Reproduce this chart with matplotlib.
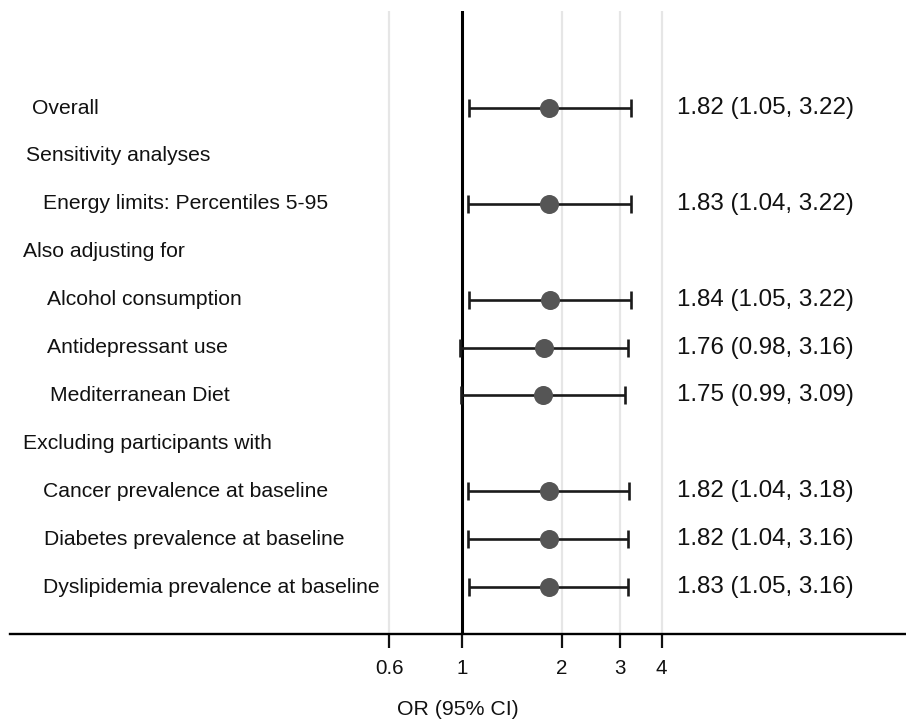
import matplotlib
matplotlib.use("Agg")
import matplotlib.pyplot as plt
from matplotlib.ticker import FixedLocator, FixedFormatter, NullLocator
from matplotlib.transforms import blended_transform_factory

plt.rcParams["font.family"] = ["Liberation Sans", "DejaVu Sans"]

# Filas del forest plot (None = fila de encabezado sin estimación)
labels = [
    "Overall",
    "Sensitivity analyses",
    "Energy limits: Percentiles 5-95",
    "Also adjusting for",
    "Alcohol consumption",
    "Antidepressant use",
    "Mediterranean Diet",
    "Excluding participants with",
    "Cancer prevalence at baseline",
    "Diabetes prevalence at baseline",
    "Dyslipidemia prevalence at baseline",
]
or_est = [1.82, None, 1.83, None, 1.84, 1.76, 1.75, None, 1.82, 1.82, 1.83]
ci_low = [1.05, None, 1.04, None, 1.05, 0.98, 0.99, None, 1.04, 1.04, 1.05]
ci_high = [3.22, None, 3.22, None, 3.22, 3.16, 3.09, None, 3.18, 3.16, 3.16]

tick_vals = [0.6, 1, 2, 3, 4]
tick_labels = ["0.6", "1", "2", "3", "4"]

# sangría de cada etiqueta (píxeles desde el borde izquierdo de la figura)
label_px = [32, 26, 43, 23, 47, 47, 50, 23, 43, 44, 43]

W, H = 906, 722
fig = plt.figure(figsize=(W / 100, H / 100), dpi=100)
ax = fig.add_axes([10 / W, 1 - 634 / H, 896 / W, (634 - 11) / H])

ax.set_xscale("log", base=2)
ax.set_xlim(0.0429, 21.9)
ax.set_ylim(10.98, -2.025)

# líneas de referencia
for v in tick_vals:
    if v == 1:
        continue
    ax.axvline(v, color="#e6e6e6", linewidth=1.6, zorder=0)
ax.axvline(1, color="black", linewidth=2.2, zorder=1)

trans = blended_transform_factory(fig.transFigure, ax.transData)
trans_r = blended_transform_factory(ax.transAxes, ax.transData)

for i, lab in enumerate(labels):
    ax.text(label_px[i] / W, i, lab, transform=trans, ha="left", va="center",
            fontsize=15.2, color="#111111")
    if or_est[i] is None:
        continue
    est, lo, hi = or_est[i], ci_low[i], ci_high[i]
    ax.errorbar(est, i, xerr=[[est - lo], [hi - est]], fmt="none",
                ecolor="#1a1a1a", elinewidth=1.9, capsize=6.5, capthick=1.9,
                zorder=2)
    ax.plot(est, i, "o", color="#555555", markersize=13.7,
            markeredgewidth=0, zorder=3)
    ax.text((677 - 10) / 896, i, f"{est:.2f} ({lo:.2f}, {hi:.2f})",
            transform=trans_r, ha="left", va="center", fontsize=17.4,
            color="#111111")

for s in ["top", "right", "left"]:
    ax.spines[s].set_visible(False)
ax.spines["bottom"].set_linewidth(1.7)
ax.set_yticks([])

ax.xaxis.set_major_locator(FixedLocator(tick_vals))
ax.xaxis.set_major_formatter(FixedFormatter(tick_labels))
ax.xaxis.set_minor_locator(NullLocator())
ax.tick_params(axis="x", length=10, width=1.6, pad=8, labelsize=14.8,
               colors="#111111")
ax.set_xlabel("OR (95% CI)", fontsize=15.3, labelpad=16, color="#111111")

fig.savefig("out.png", dpi=100)
